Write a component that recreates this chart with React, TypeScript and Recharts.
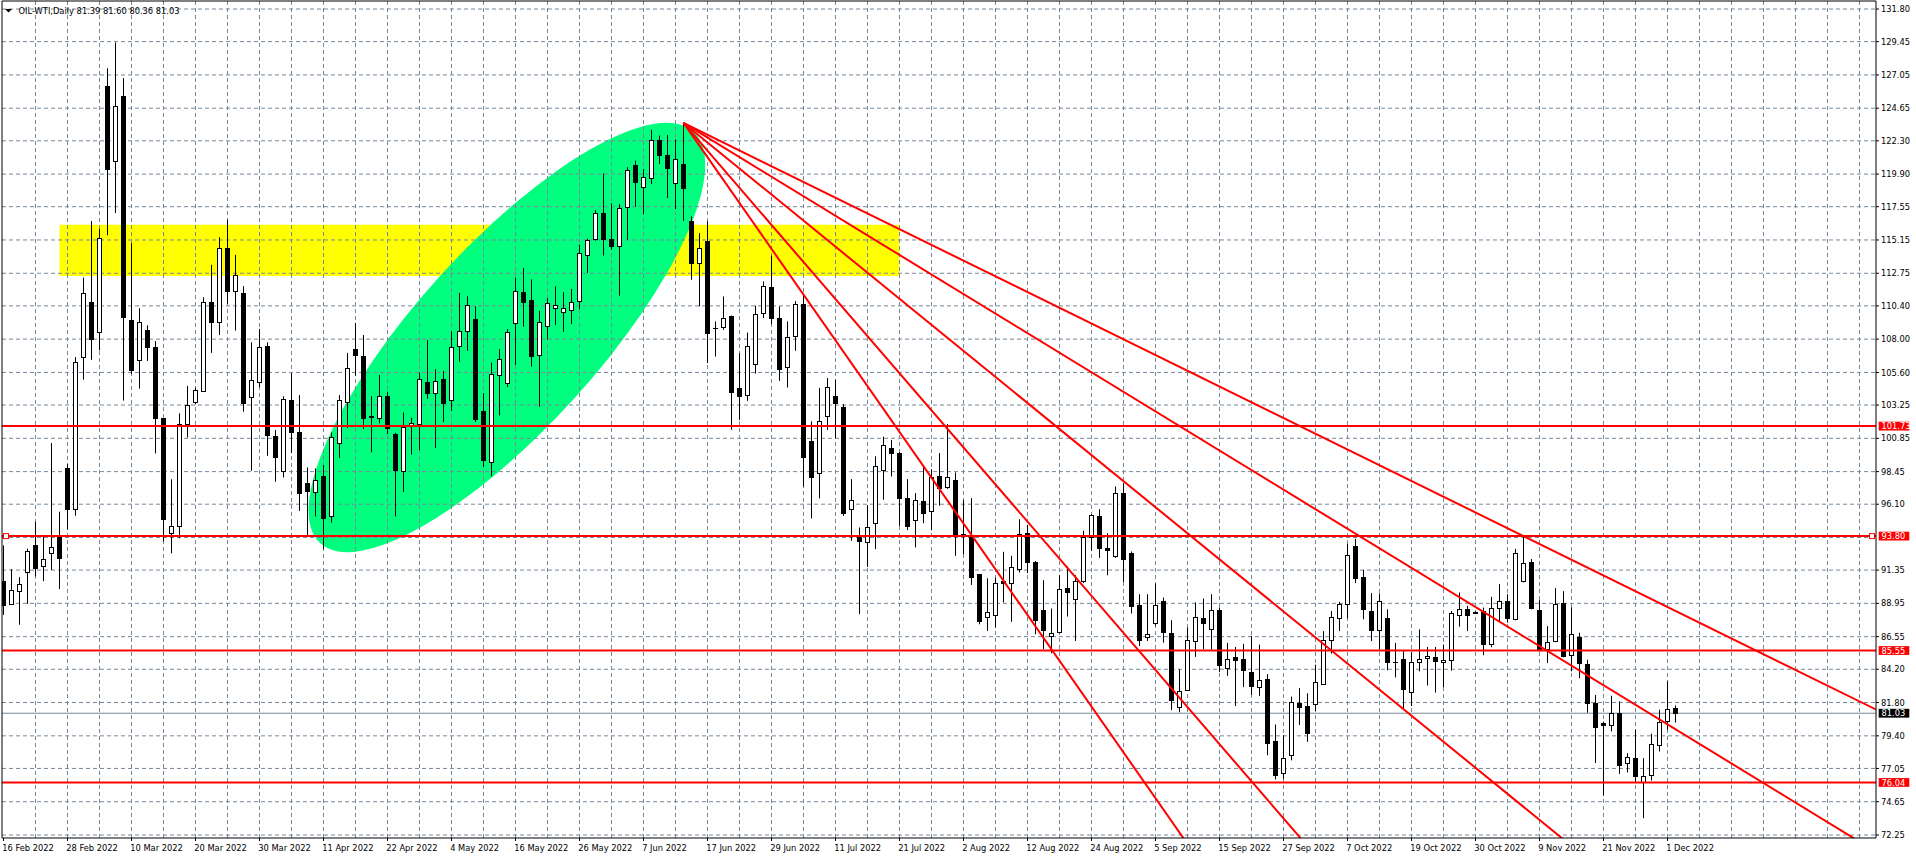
import React from 'react';
import {
  ComposedChart,
  Bar,
  XAxis,
  YAxis,
  CartesianGrid,
  ReferenceLine,
  ReferenceArea,
  ReferenceDot,
} from 'recharts';

// ---------------- data ----------------
const symbolTitle = 'OIL-WTI,Daily';

const openP = [
  90.55, 88.92, 89.84, 91.21, 93.19, 91.64, 92.56, 93.76, 98.7, 95.79,
  106.71, 110.66, 108.51, 126.25, 120.81, 125.5, 109.37, 106.48, 108.63, 107.43,
  102.28, 94.04, 94.56, 101.91, 103.48, 104.29, 110.66, 109.27, 114.56, 111.5,
  111.31, 103.8, 104.89, 107.49, 101.04, 98.51, 103.61, 101.28, 97.62, 96.99,
  98.15, 95.22, 100.48, 103.44, 107.29, 106.76, 102.45, 102.31, 103.93, 101.16,
  98.51, 101.78, 101.85, 104.94, 104.14, 105.11, 103.61, 107.52, 108.56, 109.45,
  102.82, 99.15, 105.42, 104.87, 109.14, 111.38, 110.85, 106.87, 108.97, 110.22,
  109.93, 110.13, 110.78, 114.08, 115.19, 117.1, 115.22, 114.74, 117.5, 120.56,
  118.95, 119.6, 122.36, 121.28, 119.24, 120.63, 116.52, 113.46, 115.1, 108.8,
  108.91, 109.66, 104.46, 103.96, 106.24, 109.92, 111.73, 109.56, 105.96, 108.26,
  110.5, 100.63, 98.34, 102.43, 103.88, 103.08, 95.79, 93.75, 93.34, 94.71,
  98.58, 100.12, 99.79, 96.52, 94.98, 96.35, 95.62, 98.1, 97.31, 97.84,
  93.94, 93.87, 91.05, 88.0, 88.14, 90.57, 90.45, 91.46, 93.99, 91.94,
  88.46, 86.61, 86.89, 90.04, 89.3, 90.55, 93.7, 95.22, 92.91, 92.38,
  96.9, 92.57, 88.82, 86.56, 87.5, 89.13, 86.85, 81.5, 82.71, 86.24,
  87.93, 87.07, 88.45, 84.29, 85.09, 84.97, 84.0, 82.91, 83.52, 79.01,
  76.7, 78.0, 81.75, 81.55, 81.68, 83.15, 86.3, 87.92, 88.94, 93.07,
  90.82, 88.4, 87.0, 87.92, 84.75, 84.94, 82.55, 84.73, 85.02, 85.09,
  84.73, 84.89, 88.11, 88.57, 88.33, 88.4, 86.03, 88.65, 89.13, 87.85,
  90.58, 91.91, 88.48, 85.67, 86.23, 88.96, 85.21, 86.49, 84.6, 81.75,
  80.3, 80.15, 81.04, 77.43, 77.79, 76.04, 76.59, 78.71, 80.44, 81.39,
];

const highP = [
  93.13, 91.41, 90.84, 92.9, 94.84, 93.76, 100.51, 95.56, 98.99, 106.71,
  112.43, 116.52, 115.95, 127.53, 129.39, 126.82, 114.92, 110.23, 109.0, 107.86,
  102.3, 97.9, 102.65, 104.63, 104.5, 111.02, 113.36, 115.35, 116.61, 114.08,
  111.82, 107.77, 108.74, 107.77, 101.45, 103.88, 105.56, 103.97, 98.75, 98.68,
  98.92, 101.28, 103.97, 107.01, 109.17, 108.3, 103.88, 105.42, 104.21, 101.25,
  102.72, 102.33, 105.59, 107.93, 105.83, 105.71, 108.56, 111.33, 111.09, 110.37,
  104.1, 106.31, 107.28, 108.73, 112.42, 113.12, 112.3, 110.05, 110.95, 111.81,
  111.38, 111.62, 114.81, 115.24, 117.3, 119.94, 117.79, 117.74, 120.39, 120.87,
  120.27, 123.09, 122.68, 122.72, 122.39, 123.59, 116.85, 115.65, 116.49, 109.28,
  111.08, 109.7, 106.99, 108.48, 110.41, 112.16, 114.02, 110.36, 109.28, 110.74,
  111.13, 102.07, 104.48, 105.2, 105.08, 103.32, 97.91, 94.42, 96.03, 99.55,
  100.97, 100.73, 99.85, 97.91, 96.9, 98.87, 98.63, 99.79, 101.88, 98.39,
  96.42, 96.54, 91.05, 90.76, 90.81, 92.67, 92.38, 95.02, 94.61, 92.0,
  90.62, 88.58, 90.98, 91.61, 90.98, 94.18, 95.38, 95.74, 94.01, 97.38,
  97.62, 92.69, 89.61, 89.61, 90.38, 89.37, 87.74, 84.2, 87.21, 89.01,
  89.3, 89.61, 88.65, 86.1, 85.81, 86.03, 86.59, 85.98, 83.85, 80.22,
  79.45, 82.23, 82.84, 82.47, 84.53, 86.95, 88.4, 89.06, 93.24, 93.61,
  91.36, 89.69, 89.66, 88.52, 86.1, 85.5, 85.43, 87.07, 85.81, 85.81,
  85.98, 88.4, 89.73, 88.77, 88.38, 88.65, 89.42, 90.34, 89.61, 92.88,
  93.8, 92.15, 89.18, 87.31, 90.05, 89.83, 88.67, 86.83, 84.89, 82.35,
  80.42, 82.29, 81.89, 78.15, 79.84, 77.79, 79.55, 81.28, 83.33, 81.6,
];

const lowP = [
  88.12, 88.84, 87.41, 88.92, 90.9, 90.55, 91.35, 89.98, 94.27, 95.27,
  105.08, 106.51, 107.2, 115.49, 117.09, 103.57, 105.48, 104.43, 106.43, 99.76,
  93.41, 92.56, 93.64, 100.91, 103.3, 104.22, 107.01, 108.3, 110.54, 108.62,
  102.77, 98.51, 104.53, 99.59, 97.72, 98.03, 99.79, 95.62, 93.82, 95.22,
  92.86, 94.78, 99.43, 101.59, 105.37, 101.52, 99.84, 101.93, 101.16, 95.22,
  96.98, 99.68, 99.99, 103.71, 100.16, 102.02, 102.82, 106.36, 107.16, 102.02,
  98.77, 98.11, 102.5, 104.55, 106.15, 108.9, 106.03, 103.13, 108.0, 109.02,
  108.53, 109.09, 110.17, 112.78, 115.1, 114.03, 114.45, 111.13, 115.17, 117.55,
  117.02, 119.19, 120.63, 118.18, 117.38, 116.54, 112.28, 110.36, 106.27, 106.75,
  108.67, 101.46, 102.18, 103.55, 105.52, 109.52, 109.08, 104.99, 104.51, 107.16,
  97.37, 95.07, 96.52, 101.45, 100.85, 95.26, 93.46, 88.17, 91.58, 92.86,
  96.42, 98.1, 94.54, 94.23, 92.98, 94.73, 94.23, 95.99, 97.2, 92.38,
  92.5, 90.28, 87.44, 86.96, 87.2, 89.01, 87.62, 91.17, 91.13, 86.73,
  85.64, 85.35, 86.8, 88.0, 86.24, 90.41, 92.74, 92.23, 90.98, 92.23,
  90.5, 88.22, 85.88, 86.24, 87.33, 86.12, 81.25, 81.1, 82.64, 85.09,
  85.64, 85.62, 84.0, 83.73, 81.55, 82.91, 82.35, 82.28, 78.0, 76.25,
  76.3, 77.63, 80.18, 78.97, 81.19, 83.08, 85.33, 86.95, 87.87, 90.41,
  87.8, 86.23, 85.62, 84.12, 83.61, 81.26, 81.55, 84.05, 83.03, 82.52,
  82.91, 84.1, 87.27, 86.95, 88.21, 85.21, 85.79, 87.6, 87.56, 87.73,
  90.46, 88.52, 85.5, 84.65, 86.15, 85.06, 84.05, 83.56, 81.07, 77.44,
  75.09, 79.72, 76.66, 76.76, 76.04, 73.46, 76.18, 78.27, 79.84, 80.36,
];

const closeP = [
  88.84, 89.9, 90.33, 92.76, 91.5, 92.18, 92.99, 92.21, 95.79, 106.34,
  111.35, 108.0, 115.29, 120.3, 124.79, 109.57, 105.8, 109.23, 107.43, 102.28,
  95.04, 94.5, 101.91, 103.22, 104.34, 110.66, 109.27, 114.56, 111.5, 112.59,
  103.4, 105.08, 107.41, 101.11, 99.47, 103.68, 101.33, 96.88, 97.07, 97.84,
  95.07, 100.92, 103.61, 105.9, 106.88, 102.34, 102.41, 103.93, 101.57, 98.58,
  101.64, 101.97, 105.11, 104.14, 104.99, 103.42, 107.47, 108.56, 110.49, 102.21,
  99.27, 105.52, 106.56, 108.49, 111.5, 110.66, 106.8, 109.21, 110.58, 110.49,
  110.22, 110.66, 114.2, 115.12, 117.1, 115.19, 114.74, 117.46, 120.2, 119.36,
  119.67, 122.36, 121.3, 120.34, 120.97, 118.9, 113.46, 114.54, 108.41, 108.77,
  109.56, 104.2, 103.91, 107.54, 109.78, 111.8, 109.54, 105.88, 108.19, 110.5,
  99.51, 98.03, 102.12, 104.53, 103.37, 95.5, 96.37, 93.46, 94.49, 98.82,
  100.36, 99.76, 96.52, 94.54, 96.42, 95.43, 98.03, 97.24, 98.03, 93.94,
  93.87, 90.86, 87.68, 88.36, 90.45, 90.45, 91.54, 93.94, 91.94, 87.76,
  87.04, 86.85, 89.97, 89.78, 90.55, 93.75, 95.31, 92.95, 92.81, 96.9,
  92.14, 88.77, 86.32, 86.77, 88.82, 86.89, 81.95, 82.64, 86.29, 88.0,
  87.57, 88.45, 84.53, 84.94, 84.89, 84.17, 82.96, 83.44, 78.89, 76.6,
  77.83, 81.82, 81.51, 79.62, 83.27, 86.3, 87.99, 88.89, 92.44, 90.75,
  88.57, 87.02, 89.13, 84.73, 84.7, 82.76, 84.73, 84.94, 85.18, 84.77,
  84.89, 88.23, 88.57, 88.11, 88.26, 86.03, 88.65, 89.13, 87.92, 92.57,
  91.84, 88.6, 85.62, 86.18, 88.89, 85.14, 86.76, 84.65, 81.75, 80.05,
  80.18, 81.04, 77.31, 77.87, 76.47, 76.47, 78.8, 80.39, 81.33, 81.03,
];

// one date label every 8 bars, starting with bar 0
const dateLabels = [
  '16 Feb 2022', '28 Feb 2022', '10 Mar 2022', '20 Mar 2022', '30 Mar 2022',
  '11 Apr 2022', '22 Apr 2022', '4 May 2022', '16 May 2022', '26 May 2022',
  '7 Jun 2022', '17 Jun 2022', '29 Jun 2022', '11 Jul 2022', '21 Jul 2022',
  '2 Aug 2022', '12 Aug 2022', '24 Aug 2022', '5 Sep 2022', '15 Sep 2022',
  '27 Sep 2022', '7 Oct 2022', '19 Oct 2022', '30 Oct 2022', '9 Nov 2022',
  '21 Nov 2022', '1 Dec 2022',
];
const barsPerLabel = 8;

const priceTicks = [
  131.8, 129.45, 127.05, 124.65, 122.3, 119.9, 117.55, 115.15, 112.75, 110.4,
  108.0, 105.6, 103.25, 100.85, 98.45, 96.1, 93.7, 91.35, 88.95, 86.55,
  84.2, 81.8, 79.4, 77.05, 74.65, 72.25,
];
const hiddenTick = 93.7; // covered by the 93.80 tag

const levels = [101.73, 93.8, 85.55, 76.04];
const lastPrice = closeP[closeP.length - 1];

// fan of trend lines (rays) from the June high through these points
const fanOrigin = { bar: 85, price: 123.59 };
const fanThrough = [
  { bar: 190, price: 93.8 },
  { bar: 169.5, price: 93.8 },
  { bar: 166, price: 85.55 },
  { bar: 141.9, price: 85.55 },
  { bar: 131.1, price: 85.55 },
];
const rayEndBar = 420;

// yellow zone
const zoneBars = [7, 112];
const zonePrices = [112.56, 116.24];

// green ellipse: major-axis ends, minor/major ratio
const ellipseEnds = [
  { bar: 39.6, price: 93.28 },
  { bar: 86.25, price: 122.96 },
];
const ellipseRatio = 0.327;

// ---------------- layout ----------------
const W = 1916;
const H = 859;
const FONT = '"DejaVu Sans", Verdana, sans-serif';
const FS = 8.3;
const X_DOMAIN: [number, number] = [-0.1875, 234.0625];
const Y_DOMAIN: [number, number] = [72.034, 132.38];
const GRID = '#778899';

const data = openP.map((o, i) => ({
  i,
  range: [lowP[i], highP[i]],
  o,
  h: highP[i],
  l: lowP[i],
  c: closeP[i],
}));

const dateTicks = dateLabels.map((_, k) => k * barsPerLabel);
const gridBars: number[] = [];
for (let b = 4; b < X_DOMAIN[1]; b += 4) gridBars.push(b);
const yTicks = priceTicks.filter((p) => p !== hiddenTick);

const fanLines = fanThrough.map((t) => {
  const slope = (t.price - fanOrigin.price) / (t.bar - fanOrigin.bar);
  return [
    { x: fanOrigin.bar, y: fanOrigin.price },
    { x: rayEndBar, y: fanOrigin.price + slope * (rayEndBar - fanOrigin.bar) },
  ];
});

// ---------------- shapes ----------------
const Candle = (props: any) => {
  const { x, y, width, height, payload } = props;
  if (payload == null || x == null || y == null || height == null) return null;
  const { o, h, l, c } = payload;
  const top = Math.min(y, y + height);
  const bot = Math.max(y, y + height);
  const per = h - l > 0 ? (bot - top) / (h - l) : 0;
  const yOf = (v: number) => top + (h - v) * per;
  const cx = Math.floor(x + width / 2) + 0.5;
  const yo = yOf(o);
  const yc = yOf(c);
  const bull = c >= o;
  const bTop = Math.round(Math.min(yo, yc));
  const bBot = Math.round(Math.max(yo, yc));
  return (
    <g>
      <line x1={cx} x2={cx} y1={top} y2={bot} stroke="#000" strokeWidth={1} />
      {bBot - bTop < 1 ? (
        <line x1={cx - 2.5} x2={cx + 2.5} y1={bTop + 0.5} y2={bTop + 0.5} stroke="#000" strokeWidth={1} />
      ) : (
        <rect
          x={cx - 2}
          y={bTop + 0.5}
          width={4}
          height={bBot - bTop}
          fill={bull ? '#ffffff' : '#000000'}
          stroke="#000"
          strokeWidth={1}
        />
      )}
    </g>
  );
};

const EllipseShape = (p: any) => {
  const { x1, y1, x2, y2 } = p;
  if ([x1, y1, x2, y2].some((v) => typeof v !== 'number' || isNaN(v))) return null;
  const cx = (x1 + x2) / 2;
  const cy = (y1 + y2) / 2;
  const rx = Math.hypot(x2 - x1, y2 - y1) / 2;
  const ry = rx * ellipseRatio;
  const ang = (Math.atan2(y2 - y1, x2 - x1) * 180) / Math.PI;
  return (
    <ellipse cx={cx} cy={cy} rx={rx} ry={ry} transform={`rotate(${ang} ${cx} ${cy})`} fill="#00ff7f" stroke="none" />
  );
};

const makeTag = (text: string, bg: string) => (p: any) => {
  const { cx, cy } = p;
  if (cx == null || cy == null) return null;
  return (
    <g>
      <rect x={cx + 2.7} y={cy - 4.4} width={30.6} height={8.8} fill={bg} />
      <text x={cx + 5.5} y={cy + 3.1} fill="#ffffff" fontSize={FS} fontFamily={FONT}>
        {text}
      </text>
    </g>
  );
};

const markerShape = (side: number) => (p: any) => {
  const { cx, cy } = p;
  if (cx == null || cy == null) return null;
  const x = side < 0 ? cx + 1.5 : cx - 6.5;
  return <rect x={x} y={cy - 2.5} width={5} height={5} fill="#ffffff" stroke="#ff0000" strokeWidth={1} />;
};

const XTick = (p: any) => {
  const { x, y, payload } = p;
  const idx = Math.round(payload.value / barsPerLabel);
  return (
    <text x={x - 1.3} y={y + 9.5} fontSize={FS} fontFamily={FONT} fill="#000" textAnchor="start">
      {dateLabels[idx]}
    </text>
  );
};

const YTick = (p: any) => {
  const { x, y, payload } = p;
  return (
    <text x={x} y={y + 3.1} fontSize={FS} fontFamily={FONT} fill="#000" textAnchor="start">
      {Number(payload.value).toFixed(2)}
    </text>
  );
};

// ---------------- app ----------------
export default function App() {
  const last = openP.length - 1;
  const title = `${symbolTitle}  ${openP[last].toFixed(2)} ${highP[last].toFixed(2)} ${lowP[last].toFixed(2)} ${closeP[last].toFixed(2)}`;
  return (
    <div style={{ position: 'absolute', left: 0, top: 0, width: W, height: H, background: '#ffffff' }}>
      <ComposedChart
        width={W}
        height={H}
        data={data}
        margin={{ top: 1, right: 0, bottom: 0, left: 2 }}
      >
        <XAxis
          dataKey="i"
          type="number"
          scale="linear"
          domain={X_DOMAIN}
          allowDataOverflow
          ticks={dateTicks}
          interval={0}
          height={21}
          tickSize={3}
          tickMargin={0}
          axisLine={{ stroke: '#000' }}
          tickLine={{ stroke: '#000' }}
          tick={XTick}
        />
        <YAxis
          orientation="right"
          type="number"
          domain={Y_DOMAIN}
          allowDataOverflow
          ticks={yTicks}
          interval={0}
          width={40}
          tickSize={3}
          tickMargin={2}
          axisLine={{ stroke: '#000' }}
          tickLine={{ stroke: '#000' }}
          tick={YTick}
        />

        <ReferenceArea
          x1={zoneBars[0]}
          x2={zoneBars[1]}
          y1={zonePrices[0]}
          y2={zonePrices[1]}
          fill="#ffff00"
          fillOpacity={1}
          stroke="none"
          ifOverflow="visible"
          zIndex={-300}
        />
        <ReferenceLine
          segment={[
            { x: ellipseEnds[0].bar, y: ellipseEnds[0].price },
            { x: ellipseEnds[1].bar, y: ellipseEnds[1].price },
          ]}
          ifOverflow="visible"
          shape={EllipseShape}
          zIndex={-250}
        />

        <CartesianGrid
          stroke={GRID}
          strokeDasharray="4 3"
          horizontalValues={priceTicks}
          verticalValues={gridBars}
          zIndex={-100}
        />

        <ReferenceLine y={lastPrice} stroke={GRID} strokeWidth={1} zIndex={250} />

        <Bar dataKey="range" barSize={5} isAnimationActive={false} shape={Candle} />

        {levels.map((lv) => (
          <ReferenceLine key={`lv${lv}`} y={lv} stroke="#ff0000" strokeWidth={2} zIndex={450} />
        ))}
        {fanLines.map((seg, k) => (
          <ReferenceLine
            key={`fan${k}`}
            segment={seg}
            stroke="#ff0000"
            strokeWidth={2}
            ifOverflow="hidden"
            zIndex={450}
          />
        ))}

        <ReferenceLine x={X_DOMAIN[0]} stroke="#000" ifOverflow="visible" zIndex={600} />
        <ReferenceLine y={Y_DOMAIN[1]} stroke="#000" ifOverflow="visible" zIndex={600} />

        <ReferenceDot x={X_DOMAIN[0]} y={levels[1]} ifOverflow="visible" shape={markerShape(-1)} zIndex={2100} />
        <ReferenceDot x={X_DOMAIN[1]} y={levels[1]} ifOverflow="visible" shape={markerShape(1)} zIndex={2100} />

        {levels.map((lv) => (
          <ReferenceDot
            key={`tag${lv}`}
            x={X_DOMAIN[1]}
            y={lv}
            ifOverflow="visible"
            shape={makeTag(lv.toFixed(2), '#ff0000')}
            zIndex={2100}
          />
        ))}
        <ReferenceDot
          x={X_DOMAIN[1]}
          y={lastPrice}
          ifOverflow="visible"
          shape={makeTag(lastPrice.toFixed(2), '#000000')}
          zIndex={2100}
        />
      </ComposedChart>
      <svg
        width={300}
        height={20}
        style={{ position: 'absolute', left: 0, top: 0, pointerEvents: 'none' }}
      >
        <polygon points="5,9 12,9 8.5,12.6" fill="#000" />
        <text x={18.5} y={14} fontSize={FS} fontFamily={FONT} fill="#000">
          {title}
        </text>
      </svg>
    </div>
  );
}
